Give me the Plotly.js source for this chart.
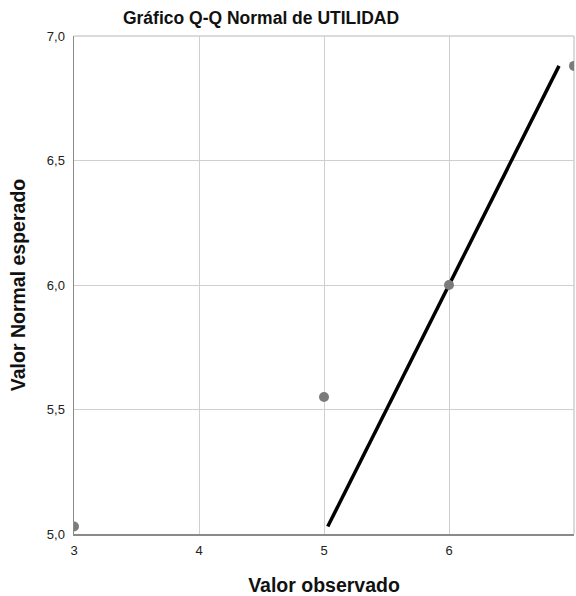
<!DOCTYPE html>
<html>
<head>
<meta charset="utf-8">
<script src="https://cdn.plot.ly/plotly-3.0.1.min.js"></script>
<style>html,body{margin:0;padding:0;background:#fff;}#chart{width:576px;height:596px;}</style>
</head>
<body>
<div id="chart"></div>
<script>
var observed = [3, 5, 6, 7];
var expected = [5.03, 5.55, 6.0, 6.88];
var refLineX = [5.03, 6.88];
var refLineY = [5.03, 6.88];
var xTicks = [3, 4, 5, 6, 7];
var yTicks = [5.0, 5.5, 6.0, 6.5, 7.0];

var traces = [
  {
    x: refLineX, y: refLineY, mode: 'lines', type: 'scatter',
    line: {color: '#000000', width: 3.5}, hoverinfo: 'skip', showlegend: false
  },
  {
    x: observed, y: expected, mode: 'markers', type: 'scatter',
    marker: {color: '#7b7b7b', size: 10}, showlegend: false, cliponaxis: true
  }
];

var layout = {
  width: 576, height: 596,
  margin: {l: 74, r: 2, t: 36, b: 62},
  paper_bgcolor: '#ffffff', plot_bgcolor: '#ffffff',
  separators: ',.',
  font: {family: 'Liberation Sans, Arial, sans-serif', color: '#222'},
  title: {
    text: '<b>Gráfico Q-Q Normal de UTILIDAD</b>',
    font: {size: 17.5, color: '#111'},
    x: 261 / 576, xref: 'container', xanchor: 'center', y: 1 - 12 / 596, yanchor: 'top'
  },
  xaxis: {
    range: [3, 7], tickvals: xTicks, ticktext: xTicks.map(String),
    showgrid: true, gridcolor: '#cfcfcf', gridwidth: 1,
    showline: true, linecolor: '#8a8a8a', linewidth: 1.5,
    zeroline: false, ticks: '', tickfont: {size: 13, color: '#222'},
    ticklabelstandoff: 4,
    title: {text: '<b>Valor observado</b>', font: {size: 19.5, color: '#111'}, standoff: 21},
    fixedrange: true
  },
  yaxis: {
    range: [5, 7], tickvals: yTicks, tickformat: '.1f',
    showgrid: true, gridcolor: '#cfcfcf', gridwidth: 1,
    showline: true, linecolor: '#8a8a8a', linewidth: 1.5,
    zeroline: false, ticks: '', tickfont: {size: 13, color: '#222'},
    ticklabelstandoff: 5,
    title: {text: '<b>Valor Normal esperado</b>', font: {size: 19.5, color: '#111'}, standoff: 16},
    fixedrange: true
  },
  shapes: [
    {type: 'line', xref: 'paper', yref: 'paper', x0: 0, x1: 1, y0: 1, y1: 1, line: {color: '#cfcfcf', width: 1.5}, layer: 'below'},
    {type: 'line', xref: 'paper', yref: 'paper', x0: 1, x1: 1, y0: 0, y1: 1, line: {color: '#cfcfcf', width: 1.5}, layer: 'below'}
  ]
};

Plotly.newPlot('chart', traces, layout, {displayModeBar: false, staticPlot: true});
</script>
</body>
</html>
